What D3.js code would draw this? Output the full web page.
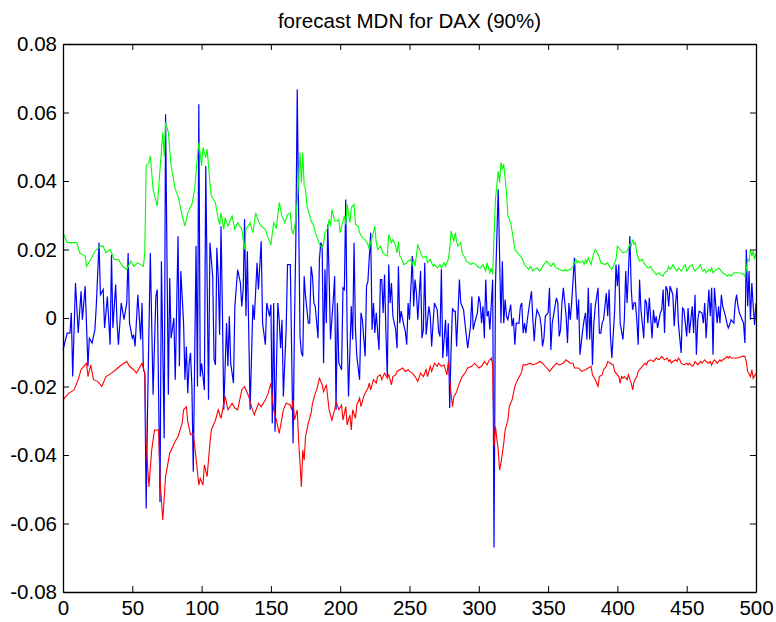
<!DOCTYPE html>
<html>
<head>
<meta charset="utf-8">
<script src="https://cdn.jsdelivr.net/npm/d3@7.9.0/dist/d3.min.js"></script>
<style>
  body { margin: 0; background: #fff; }
  svg { display: block; font-family: "Liberation Sans", Arial, Helvetica, sans-serif; }
</style>
</head>
<body>
<div id="chart"></div>
<script>
const title = 'forecast MDN for DAX (90%)';
const xTicks = [0, 50, 100, 150, 200, 250, 300, 350, 400, 450, 500];
const yTicks = [-0.08, -0.06, -0.04, -0.02, 0, 0.02, 0.04, 0.06, 0.08];

// upper band (green), [t, value]
const upper = [[0,.0249],[3,.0220],[8,.0220],[10,.0220],[12,.0190],[16,.0181],[17,.0151],[20,.0171],[23,.0195],[27,.0210],[29,.0210],[31,.0190],[34,.0200],[37,.0171],[40,.0171],[43,.0151],[46,.0142],[49,.0166],[51,.0151],[54,.0161],[58,.0151],[59,.0190],[60,.0444],[62,.0454],[63,.0473],[65,.0376],[68,.0327],[70,.0434],[72,.0542],[73,.0473],[74,.0571],[76,.0542],[78,.0444],[81,.0376],[83,.0356],[86,.0298],[88,.0268],[90,.0307],[93,.0332],[95,.0376],[97,.0473],[98,.0512],[100,.0444],[101,.0498],[103,.0468],[104,.0493],[106,.0395],[107,.0356],[110,.0337],[112,.0288],[113,.0273],[114,.0307],[116,.0259],[117,.0293],[119,.0268],[122,.0298],[124,.0259],[126,.0278],[129,.0259],[131,.0200],[132,.0259],[135,.0278],[137,.0249],[139,.0307],[141,.0283],[143,.0268],[146,.0259],[148,.0234],[150,.0215],[152,.0278],[154,.0263],[156,.0337],[158,.0298],[160,.0278],[162,.0302],[164,.0307],[165,.0259],[166,.0244],[168,.0288],[170,.0395],[171,.0483],[172,.0395],[173,.0483],[174,.0385],[175,.0376],[176,.0327],[178,.0298],[179,.0283],[181,.0268],[182,.0249],[184,.0229],[185,.0215],[187,.0205],[188,.0215],[189,.0249],[191,.0263],[192,.0288],[193,.0268],[194,.0317],[196,.0283],[198,.0283],[199,.0288],[200,.0249],[202,.0283],[203,.0298],[204,.0273],[205,.0332],[207,.0278],[208,.0322],[210,.0332],[211,.0273],[213,.0268],[214,.0249],[216,.0234],[218,.0229],[220,.0215],[221,.0200],[222,.0224],[223,.0234],[225,.0268],[226,.0220],[227,.0200],[229,.0210],[231,.0190],[232,.0185],[234,.0181],[235,.0244],[237,.0220],[238,.0229],[240,.0210],[241,.0190],[242,.0224],[243,.0181],[244,.0176],[246,.0156],[248,.0161],[249,.0166],[251,.0171],[252,.0156],[253,.0171],[254,.0151],[256,.0215],[258,.0190],[259,.0181],[260,.0176],[262,.0181],[263,.0161],[265,.0171],[266,.0161],[267,.0151],[268,.0156],[270,.0146],[272,.0156],[273,.0146],[275,.0161],[276,.0151],[278,.0171],[279,.0200],[280,.0254],[282,.0224],[283,.0249],[284,.0224],[285,.0210],[287,.0220],[288,.0190],[290,.0176],[291,.0166],[293,.0161],[294,.0156],[296,.0161],[298,.0156],[299,.0151],[301,.0146],[303,.0156],[304,.0146],[305,.0137],[306,.0161],[308,.0132],[309,.0146],[310,.0127],[311,.0239],[312,.0346],[314,.0429],[315,.0395],[316,.0454],[317,.0434],[318,.0449],[320,.0366],[321,.0298],[323,.0278],[325,.0229],[326,.0200],[328,.0190],[331,.0176],[333,.0156],[334,.0151],[336,.0142],[337,.0151],[338,.0146],[339,.0137],[340,.0142],[342,.0146],[343,.0142],[344,.0137],[345,.0142],[346,.0151],[348,.0161],[349,.0166],[350,.0161],[351,.0156],[352,.0151],[354,.0161],[355,.0151],[356,.0146],[358,.0142],[361,.0137],[362,.0142],[363,.0137],[366,.0142],[368,.0151],[369,.0161],[370,.0171],[371,.0161],[372,.0166],[373,.0161],[375,.0166],[376,.0156],[377,.0171],[378,.0161],[379,.0176],[381,.0156],[382,.0176],[383,.0190],[384,.0200],[385,.0195],[387,.0176],[388,.0161],[391,.0156],[393,.0161],[394,.0151],[396,.0142],[397,.0151],[398,.0161],[399,.0171],[400,.0210],[402,.0200],[404,.0190],[407,.0195],[408,.0205],[409,.0215],[410,.0210],[411,.0229],[412,.0215],[413,.0220],[414,.0190],[415,.0176],[416,.0166],[418,.0171],[419,.0161],[420,.0156],[421,.0151],[422,.0146],[424,.0151],[425,.0142],[426,.0137],[428,.0127],[430,.0132],[431,.0127],[433,.0122],[434,.0132],[436,.0137],[437,.0151],[438,.0142],[439,.0146],[440,.0156],[442,.0142],[443,.0137],[444,.0146],[445,.0142],[446,.0137],[448,.0151],[449,.0156],[450,.0137],[451,.0142],[452,.0151],[454,.0156],[455,.0142],[456,.0137],[457,.0142],[458,.0146],[460,.0156],[461,.0142],[462,.0137],[463,.0142],[464,.0132],[466,.0142],[467,.0137],[468,.0146],[469,.0132],[470,.0137],[472,.0142],[473,.0146],[474,.0142],[475,.0137],[476,.0132],[478,.0127],[479,.0122],[481,.0127],[482,.0122],[484,.0132],[487,.0132],[490,.0130],[491,.0127],[492,.0122],[493,.0142],[494,.0171],[495,.0166],[496,.0200],[497,.0181],[498,.0195],[499,.0171],[500,.0190]];

// lower band (red)
const lower = [[0,-.0239],[4,-.0220],[8,-.0210],[11,-.0180],[13,-.0151],[15,-.0141],[17,-.0132],[18,-.0171],[20,-.0137],[22,-.0180],[25,-.0185],[28,-.0200],[31,-.0171],[35,-.0161],[38,-.0151],[41,-.0141],[44,-.0132],[46,-.0127],[48,-.0141],[51,-.0151],[53,-.0161],[57,-.0132],[59,-.0161],[60,-.0366],[62,-.0493],[64,-.0385],[66,-.0327],[69,-.0327],[70,-.0473],[72,-.0590],[74,-.0463],[77,-.0395],[81,-.0360],[83,-.0346],[86,-.0307],[87,-.0268],[89,-.0259],[90,-.0302],[92,-.0341],[94,-.0337],[96,-.0410],[98,-.0488],[99,-.0468],[101,-.0488],[102,-.0429],[104,-.0463],[106,-.0366],[107,-.0327],[110,-.0298],[112,-.0268],[114,-.0293],[117,-.0229],[119,-.0268],[122,-.0249],[124,-.0263],[126,-.0268],[129,-.0210],[131,-.0200],[134,-.0229],[136,-.0259],[138,-.0283],[141,-.0249],[143,-.0259],[146,-.0239],[148,-.0220],[150,-.0190],[152,-.0268],[154,-.0298],[156,-.0337],[159,-.0268],[161,-.0249],[164,-.0254],[165,-.0268],[166,-.0239],[167,-.0298],[169,-.0268],[170,-.0356],[171,-.0424],[172,-.0493],[173,-.0385],[174,-.0415],[175,-.0346],[177,-.0307],[179,-.0278],[180,-.0249],[182,-.0220],[183,-.0210],[185,-.0176],[187,-.0195],[188,-.0215],[190,-.0195],[192,-.0268],[194,-.0298],[196,-.0268],[197,-.0244],[199,-.0268],[201,-.0254],[202,-.0298],[204,-.0259],[205,-.0312],[207,-.0283],[208,-.0327],[209,-.0268],[211,-.0293],[212,-.0254],[214,-.0234],[215,-.0259],[217,-.0229],[218,-.0220],[220,-.0205],[221,-.0190],[222,-.0210],[224,-.0180],[226,-.0190],[227,-.0171],[229,-.0166],[230,-.0180],[232,-.0161],[234,-.0176],[235,-.0166],[237,-.0195],[238,-.0171],[240,-.0166],[241,-.0156],[243,-.0151],[245,-.0146],[247,-.0156],[249,-.0151],[250,-.0156],[252,-.0161],[254,-.0171],[256,-.0185],[258,-.0161],[260,-.0171],[262,-.0151],[263,-.0171],[265,-.0141],[266,-.0156],[268,-.0132],[270,-.0141],[271,-.0132],[273,-.0141],[275,-.0137],[277,-.0166],[278,-.0127],[279,-.0180],[281,-.0259],[282,-.0229],[283,-.0224],[284,-.0215],[286,-.0190],[288,-.0171],[290,-.0161],[292,-.0146],[295,-.0141],[297,-.0132],[300,-.0146],[302,-.0141],[304,-.0127],[306,-.0137],[307,-.0127],[309,-.0117],[310,-.0137],[311,-.0376],[312,-.0317],[314,-.0385],[315,-.0444],[316,-.0424],[318,-.0366],[319,-.0327],[321,-.0298],[322,-.0259],[324,-.0239],[326,-.0200],[328,-.0180],[330,-.0166],[331,-.0156],[332,-.0137],[334,-.0137],[337,-.0132],[339,-.0137],[342,-.0132],[344,-.0127],[346,-.0132],[349,-.0146],[351,-.0156],[354,-.0141],[356,-.0132],[358,-.0137],[361,-.0132],[363,-.0122],[366,-.0132],[368,-.0132],[369,-.0146],[372,-.0146],[374,-.0156],[377,-.0151],[379,-.0146],[381,-.0141],[382,-.0166],[384,-.0180],[385,-.0190],[386,-.0200],[387,-.0171],[389,-.0166],[390,-.0151],[392,-.0141],[393,-.0127],[395,-.0132],[397,-.0137],[398,-.0156],[399,-.0161],[401,-.0171],[402,-.0190],[403,-.0171],[404,-.0176],[405,-.0171],[407,-.0180],[408,-.0166],[409,-.0180],[410,-.0190],[411,-.0210],[412,-.0185],[414,-.0171],[415,-.0156],[416,-.0151],[418,-.0141],[420,-.0132],[421,-.0137],[422,-.0127],[424,-.0122],[426,-.0127],[427,-.0122],[428,-.0117],[430,-.0122],[431,-.0117],[432,-.0112],[433,-.0117],[434,-.0122],[436,-.0117],[437,-.0127],[438,-.0122],[439,-.0132],[440,-.0127],[442,-.0122],[443,-.0127],[444,-.0117],[445,-.0122],[446,-.0132],[448,-.0137],[450,-.0132],[451,-.0137],[452,-.0132],[454,-.0141],[455,-.0137],[456,-.0127],[457,-.0132],[458,-.0137],[460,-.0127],[461,-.0132],[462,-.0127],[463,-.0122],[464,-.0127],[466,-.0132],[467,-.0127],[468,-.0137],[469,-.0127],[470,-.0122],[472,-.0132],[474,-.0122],[475,-.0127],[476,-.0122],[478,-.0117],[479,-.0112],[480,-.0117],[481,-.0112],[482,-.0117],[485,-.0117],[487,-.0117],[490,-.0112],[492,-.0112],[493,-.0127],[494,-.0156],[496,-.0171],[497,-.0151],[498,-.0176],[500,-.0161]];

// realised returns (blue)
const returns = [[0,-.0093],[3,-.0044],[5,-.0044],[6,.0015],[7,-.0171],[9,.0102],[11,-.0044],[13,.0078],[14,-.0005],[16,.0093],[18,-.0141],[19,-.0059],[21,-.0073],[23,-.0034],[24,.0034],[26,.0220],[27,.0068],[29,.0083],[30,-.0029],[32,.0063],[34,-.0078],[35,.0185],[36,-.0029],[38,.0098],[39,-.0015],[40,-.0078],[42,.0044],[44,-.0005],[46,.0044],[47,.0190],[48,-.0015],[50,-.0059],[51,-.0049],[52,-.0083],[54,.0068],[56,-.0063],[57,.0044],[58,-.0151],[59,-.0161],[60,-.0556],[61,-.0268],[63,.0190],[65,-.0224],[67,.0063],[68,.0083],[70,-.0537],[71,.0166],[73,-.0351],[74,.0595],[76,-.0224],[77,.0117],[78,-.0059],[80,0],[81,-.0180],[83,.0239],[84,-.0141],[85,.0137],[87,-.0015],[88,-.0180],[89,-.0083],[90,-.0220],[91,-.0132],[92,-.0102],[93,-.0200],[94,-.0449],[96,.0210],[97,-.0200],[98,.0624],[99,-.0171],[100,-.0132],[102,-.0210],[103,.0444],[105,-.0239],[106,.0220],[108,.0122],[109,-.0122],[110,-.0137],[111,.0205],[112,.0122],[113,-.0049],[114,.0268],[115,.0024],[116,-.0268],[118,-.0015],[119,-.0141],[120,.0005],[121,-.0132],[123,-.0190],[124,.0034],[126,.0141],[128,.0102],[129,.0034],[130,.0083],[131,.0288],[132,.0005],[133,.0195],[134,-.0034],[135,-.0268],[137,.0039],[138,-.0005],[140,.0161],[141,.0083],[143,.0224],[144,-.0015],[146,-.0078],[147,.0044],[149,.0005],[150,.0039],[151,-.0307],[152,.0044],[153,-.0332],[155,.0044],[156,-.0005],[157,-.0088],[158,-.0005],[159,-.0229],[161,-.0034],[162,.0156],[164,.0156],[166,-.0366],[167,-.0020],[168,.0229],[169,.0668],[171,-.0054],[172,-.0102],[173,-.0112],[174,.0122],[175,.0063],[177,-.0015],[178,-.0015],[179,.0151],[180,.0122],[181,.0044],[182,.0034],[184,-.0059],[185,.0171],[186,.0220],[187,.0210],[188,-.0132],[189,.0142],[190,-.0015],[191,.0273],[192,.0122],[193,-.0063],[195,.0054],[196,.0122],[197,-.0268],[198,.0044],[199,-.0132],[201,-.0151],[202,.0088],[203,.0083],[204,.0346],[205,-.0034],[206,-.0229],[208,.0034],[209,-.0063],[210,.0220],[211,-.0034],[212,-.0112],[214,-.0180],[215,.0015],[216,-.0005],[218,-.0112],[219,.0093],[220,.0107],[222,.0249],[223,-.0034],[224,.0044],[225,-.0044],[226,.0015],[228,-.0093],[229,.0112],[230,.0112],[231,.0015],[232,.0127],[233,-.0044],[234,-.0171],[235,.0156],[236,.0044],[237,.0102],[238,.0005],[240,-.0034],[241,-.0088],[242,.0151],[243,-.0015],[244,.0020],[246,-.0024],[247,-.0039],[248,-.0078],[249,.0044],[250,-.0005],[252,.0181],[253,.0034],[254,.0112],[255,.0073],[256,-.0005],[258,.0137],[259,-.0059],[260,-.0034],[261,.0161],[262,-.0049],[264,.0034],[265,.0005],[266,-.0083],[267,-.0015],[268,.0044],[270,.0024],[271,-.0039],[272,-.0054],[273,.0142],[274,-.0117],[276,-.0005],[277,-.0112],[278,-.0015],[279,-.0263],[280,-.0093],[281,.0029],[282,.0020],[283,.0020],[284,-.0083],[286,.0112],[287,.0044],[289,.0024],[290,-.0015],[292,-.0088],[294,-.0024],[295,.0063],[296,-.0034],[297,-.0015],[299,.0015],[300,.0063],[301,.0044],[302,-.0015],[303,.0034],[304,-.0059],[305,.0112],[306,.0005],[307,.0020],[308,-.0034],[310,.0112],[311,-.0670],[312,.0093],[314,.0376],[316,-.0015],[317,.0166],[318,-.0015],[319,.0054],[320,.0005],[321,-.0005],[323,.0039],[324,-.0024],[325,0],[326,-.0078],[327,-.0015],[329,-.0015],[330,.0034],[331,.0044],[332,-.0044],[333,-.0015],[334,-.0044],[335,-.0005],[336,.0024],[338,.0078],[339,-.0005],[340,-.0068],[341,-.0005],[342,.0024],[344,.0005],[345,-.0024],[346,-.0083],[347,-.0059],[348,.0005],[350,.0015],[351,.0088],[352,-.0093],[353,-.0015],[354,.0010],[356,.0059],[357,.0044],[358,-.0054],[359,-.0034],[360,.0044],[361,.0088],[363,.0005],[364,-.0073],[365,.0044],[366,-.0005],[367,.0044],[369,.0176],[370,.0083],[371,-.0005],[372,.0054],[373,-.0107],[375,-.0034],[376,-.0005],[377,.0015],[378,-.0063],[379,.0088],[380,-.0063],[381,.0044],[382,-.0137],[383,-.0015],[384,.0034],[386,.0088],[387,-.0044],[388,-.0044],[389,-.0015],[390,-.0005],[392,.0073],[393,.0005],[394,.0083],[395,-.0054],[396,-.0117],[398,.0020],[399,.0156],[400,.0093],[401,.0156],[402,-.0015],[404,-.0063],[405,-.0005],[406,.0137],[407,.0044],[409,.0239],[410,.0083],[411,.0024],[412,.0044],[413,.0044],[414,-.0005],[415,-.0078],[416,.0112],[417,.0024],[419,-.0059],[420,.0054],[421,.0044],[422,-.0015],[423,.0059],[425,-.0059],[426,.0024],[427,-.0015],[428,.0005],[429,-.0029],[431,.0015],[432,.0024],[433,.0083],[434,-.0044],[435,.0093],[436,.0083],[437,.0034],[438,.0093],[440,.0068],[441,-.0024],[442,.0044],[443,.0088],[444,-.0015],[446,-.0102],[447,.0029],[448,.0024],[449,-.0015],[450,-.0054],[451,.0029],[452,-.0044],[454,.0034],[455,-.0044],[456,.0068],[457,-.0107],[458,-.0005],[459,.0020],[461,.0015],[462,-.0015],[463,.0044],[464,-.0059],[466,.0083],[467,.0005],[468,.0088],[469,-.0107],[470,.0088],[472,-.0015],[473,.0034],[474,-.0015],[475,.0068],[476,.0034],[478,.0005],[479,-.0015],[480,-.0029],[481,-.0020],[482,-.0005],[484,-.0015],[485,.0044],[486,.0068],[487,.0034],[488,.0015],[490,-.0005],[491,-.0015],[492,-.0073],[493,.0200],[494,.0034],[495,.0137],[496,-.0005],[497,.0102],[498,.0034],[499,-.0020],[500,.0044]];

const width = 776;
const height = 622;
const margin = { top: 44, right: 20, bottom: 30, left: 63 };

const svg = d3.select('#chart')
  .append('svg')
  .attr('width', width)
  .attr('height', height);

const x = d3.scaleLinear().domain([0, 500]).range([margin.left, width - margin.right]);
const y = d3.scaleLinear().domain([-0.08, 0.08]).range([height - margin.bottom, margin.top]);

const line = d3.line()
  .x((d) => x(d[0]))
  .y((d) => y(d[1]));

// series, drawn in the same order as matlab plot()
svg.append('path').datum(returns)
  .attr('fill', 'none').attr('stroke', '#0000ff').attr('stroke-width', 1.2)
  .attr('d', line);
svg.append('path').datum(upper)
  .attr('fill', 'none').attr('stroke', '#00ff00').attr('stroke-width', 1.1)
  .attr('d', line);
svg.append('path').datum(lower)
  .attr('fill', 'none').attr('stroke', '#ff0000').attr('stroke-width', 1.1)
  .attr('d', line);

const fmt = (d) => (d === 0 ? '0' : d.toFixed(2));
const tick = 6;
const fontSize = '20.5px';

// bottom + left axes carry labels, top + right only ticks
const gx = svg.append('g')
  .attr('transform', `translate(0,${y(-0.08)})`)
  .call(d3.axisBottom(x).tickValues(xTicks).tickSizeInner(-tick).tickSizeOuter(0).tickPadding(8));
const gy = svg.append('g')
  .attr('transform', `translate(${x(0)},0)`)
  .call(d3.axisLeft(y).tickValues(yTicks).tickFormat(fmt).tickSizeInner(-tick).tickSizeOuter(0).tickPadding(6));
const gt = svg.append('g')
  .attr('transform', `translate(0,${y(0.08)})`)
  .call(d3.axisTop(x).tickValues(xTicks).tickSizeInner(-tick).tickSizeOuter(0).tickFormat(''));
const gr = svg.append('g')
  .attr('transform', `translate(${x(500)},0)`)
  .call(d3.axisRight(y).tickValues(yTicks).tickSizeInner(-tick).tickSizeOuter(0).tickFormat(''));

[gx, gy, gt, gr].forEach((g) => {
  g.selectAll('path.domain').attr('stroke', '#000').attr('stroke-width', 1.3);
  g.selectAll('.tick line').attr('stroke', '#000');
  g.selectAll('text').attr('fill', '#000').style('font-size', fontSize)
    .style('font-family', '"Liberation Sans", Arial, Helvetica, sans-serif');
});

svg.append('text')
  .attr('x', (x(0) + x(500)) / 2)
  .attr('y', 28)
  .attr('text-anchor', 'middle')
  .style('font-size', fontSize)
  .text(title);
</script>
</body>
</html>
